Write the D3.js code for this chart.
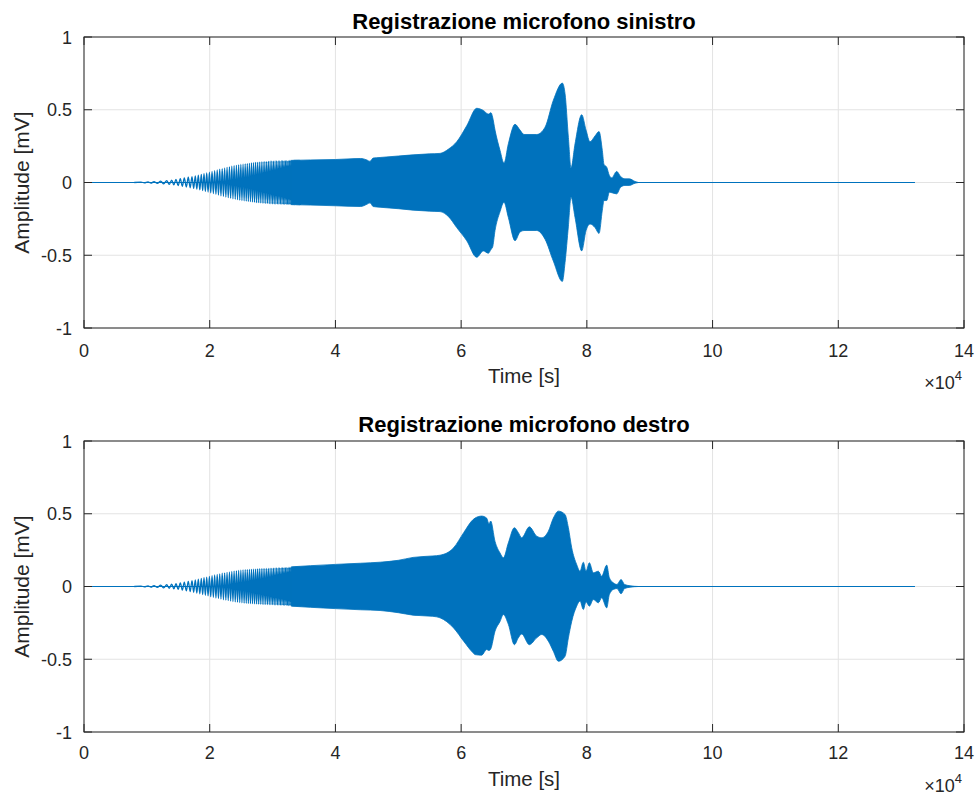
<!DOCTYPE html>
<html>
<head>
<meta charset="utf-8">
<script src="https://cdn.jsdelivr.net/npm/d3@7"></script>
<style>
  body { margin: 0; background: #fff; }
  text { font-family: "Liberation Sans", Arial, Helvetica, sans-serif; }
</style>
</head>
<body>
<svg id="fig" width="978" height="798"></svg>
<script>
// ---- axes ----
const xTicks = [0, 20000, 40000, 60000, 80000, 100000, 120000, 140000];
const yTicks = [-1, -0.5, 0, 0.5, 1];
const panelTitles = ["Registrazione microfono sinistro", "Registrazione microfono destro"];

// last sample of the recording
const recordEnd = 132200;

// start of the sweep (signal leaves the zero line here)
const sweepStart = 8000;

// crest / trough sample positions of the low-frequency part of the sweep
const crestT = [9069, 10182, 11137, 12203, 13158, 13953, 14637, 15321, 15958, 16594,
  17183, 17708, 18185, 18662, 19092, 19522, 19951, 20373, 20786, 21192,
  21590, 21988, 22377, 22759, 23141, 23515, 23881, 24247, 24605, 24955,
  25305, 25647, 25981, 26315, 26641, 26960, 27278, 27588, 27890, 28193,
  28487, 28773, 29060, 29338, 29609, 29879, 30141, 30396, 30651, 30897,
  31136, 31375, 31606, 31828, 32051, 32265, 32472, 32679, 32878, 33077,
  33268, 33459, 33642, 33825, 34000, 34175, 34350];
const troughT = [9626, 10660, 11670, 12680, 13556, 14295, 14979, 15640, 16276, 16889,
  17446, 17947, 18424, 18877, 19307, 19737, 20162, 20580, 20989, 21391,
  21789, 22183, 22568, 22950, 23328, 23698, 24064, 24426, 24780, 25130,
  25476, 25814, 26148, 26478, 26800, 27119, 27433, 27739, 28041, 28340,
  28630, 28916, 29199, 29473, 29744, 30010, 30268, 30523, 30774, 31016,
  31255, 31490, 31717, 31940, 32158, 32368, 32575, 32778, 32977, 33172,
  33363, 33550, 33733, 33912, 34087, 34262, 34437];

// peak amplitude of each sweep cycle [mV]
const cycleAmpL = [0.003, 0.004, 0.006, 0.009, 0.013, 0.017, 0.021, 0.026, 0.031, 0.036,
  0.041, 0.046, 0.051, 0.056, 0.061, 0.066, 0.071, 0.076, 0.081, 0.086,
  0.091, 0.096, 0.100, 0.104, 0.108, 0.112, 0.115, 0.118, 0.121, 0.124,
  0.126, 0.128, 0.130, 0.132, 0.134, 0.136, 0.138, 0.139, 0.140, 0.141,
  0.142, 0.143, 0.144, 0.145, 0.146, 0.147, 0.147, 0.148, 0.148, 0.149,
  0.149, 0.150, 0.150, 0.150, 0.151, 0.151, 0.151, 0.152, 0.152, 0.152,
  0.152, 0.153, 0.153, 0.153, 0.153, 0.154, 0.154];
const cycleAmpR = [0.003, 0.004, 0.006, 0.009, 0.012, 0.016, 0.020, 0.025, 0.030, 0.035,
  0.040, 0.045, 0.050, 0.055, 0.060, 0.065, 0.070, 0.075, 0.079, 0.083,
  0.087, 0.091, 0.094, 0.097, 0.100, 0.103, 0.106, 0.108, 0.110, 0.112,
  0.114, 0.115, 0.116, 0.117, 0.118, 0.119, 0.120, 0.121, 0.122, 0.122,
  0.123, 0.123, 0.124, 0.124, 0.125, 0.125, 0.126, 0.126, 0.127, 0.127,
  0.128, 0.128, 0.129, 0.129, 0.130, 0.130, 0.131, 0.131, 0.132, 0.132,
  0.133, 0.133, 0.134, 0.134, 0.134, 0.135, 0.135];

// envelope of the dense part: sample, upper peak, lower peak (magnitude) [mV]
const envTL = [33000, 36000, 40000, 44000, 45000, 45500, 46000, 47100, 50000, 52350,
  55000, 56640, 58000, 59300, 60890, 62480, 63530, 64330, 64750, 65000,
  65390, 66190, 66820, 67510, 68570, 69370, 70000, 72020, 73350, 74670,
  76100, 76530, 77060, 77480, 78120, 79180, 79870, 80500, 81300, 81940,
  82460, 82730, 83160, 83580, 83950, 84740, 85380, 86070, 86760, 87660, 88200];
const envUpL = [0.152, 0.155, 0.158, 0.165, 0.155, 0.145, 0.168, 0.172, 0.182, 0.190,
  0.197, 0.200, 0.230, 0.280, 0.390, 0.510, 0.495, 0.470, 0.480, 0.450,
  0.360, 0.220, 0.133, 0.266, 0.400, 0.360, 0.330, 0.330, 0.380, 0.565,
  0.683, 0.610, 0.310, 0.100, 0.266, 0.466, 0.360, 0.280, 0.320, 0.350,
  0.220, 0.124, 0.105, 0.048, 0.032, 0.076, 0.041, 0.025, 0.025, 0.007, 0];
const envLoL = [0.152, 0.155, 0.160, 0.165, 0.150, 0.140, 0.165, 0.170, 0.180, 0.190,
  0.197, 0.200, 0.235, 0.310, 0.400, 0.514, 0.470, 0.486, 0.460, 0.445,
  0.330, 0.200, 0.135, 0.240, 0.400, 0.340, 0.330, 0.330, 0.390, 0.540,
  0.680, 0.550, 0.300, 0.100, 0.240, 0.470, 0.330, 0.285, 0.310, 0.350,
  0.190, 0.124, 0.124, 0.067, 0.070, 0.078, 0.032, 0.020, 0.020, 0.005, 0];

const envTR = [33000, 36000, 40000, 44000, 47100, 50000, 52350, 55500, 56640, 58800,
  60400, 61900, 62210, 63270, 64060, 64430, 64700, 65390, 66190, 66720,
  67510, 68470, 69100, 69630, 70850, 72020, 72820, 73880, 74670, 75470,
  76530, 77060, 77590, 78380, 78910, 79440, 79870, 80400, 81030, 81830,
  82360, 83160, 83580, 84220, 84800, 85440, 86000, 86870, 88200];
const envUpR = [0.135, 0.143, 0.152, 0.160, 0.167, 0.180, 0.200, 0.210, 0.215, 0.266,
  0.370, 0.460, 0.470, 0.484, 0.470, 0.430, 0.450, 0.310, 0.230, 0.197,
  0.300, 0.404, 0.370, 0.335, 0.410, 0.346, 0.335, 0.380, 0.470, 0.518,
  0.495, 0.404, 0.266, 0.151, 0.105, 0.167, 0.105, 0.163, 0.094, 0.105,
  0.071, 0.147, 0.060, 0.025, 0.014, 0.048, 0.014, 0.005, 0];
const envLoR = [0.135, 0.143, 0.152, 0.160, 0.165, 0.180, 0.197, 0.205, 0.215, 0.285,
  0.376, 0.456, 0.468, 0.472, 0.433, 0.440, 0.430, 0.307, 0.240, 0.193,
  0.260, 0.400, 0.353, 0.326, 0.400, 0.353, 0.330, 0.376, 0.445, 0.514,
  0.480, 0.353, 0.240, 0.135, 0.100, 0.158, 0.105, 0.135, 0.090, 0.112,
  0.078, 0.147, 0.055, 0.020, 0.014, 0.050, 0.014, 0.005, 0];

// ---- layout ----
const lineColor = "#0072BD";
const axisColor = "#262626";
const gridColor = "#e3e3e3";
const left = 84, right = 964, plotH = 291, tickLen = 8;
const panels = [
  { top: 37, title: panelTitles[0], titleY: 29, tickY: 357, labelY: 383, expY: 389,
    crest: crestT, trough: troughT, amp: cycleAmpL, envT: envTL, envUp: envUpL, envLo: envLoL },
  { top: 441, title: panelTitles[1], titleY: 432, tickY: 759, labelY: 786, expY: 792,
    crest: crestT, trough: troughT, amp: cycleAmpR, envT: envTR, envUp: envUpR, envLo: envLoR }
];

const svg = d3.select("#fig");
const x = d3.scaleLinear().domain([0, 140000]).range([left, right]);

panels.forEach((p, k) => {
  const y = d3.scaleLinear().domain([-1, 1]).range([p.top + plotH, p.top]);
  const g = svg.append("g");

  // grid
  g.selectAll(".gx").data(xTicks).join("line")
    .attr("x1", d => x(d)).attr("x2", d => x(d))
    .attr("y1", p.top).attr("y2", p.top + plotH)
    .attr("stroke", gridColor).attr("stroke-width", 1);
  g.selectAll(".gy").data(yTicks).join("line")
    .attr("x1", left).attr("x2", right)
    .attr("y1", d => y(d)).attr("y2", d => y(d))
    .attr("stroke", gridColor).attr("stroke-width", 1);

  const clipId = "clip" + k;
  svg.append("clipPath").attr("id", clipId).append("rect")
    .attr("x", left).attr("y", p.top).attr("width", right - left).attr("height", plotH);
  const plot = g.append("g").attr("clip-path", `url(#${clipId})`);

  // silent part: the trace sits on zero over the whole record
  plot.append("path")
    .attr("d", d3.line().x(d => x(d[0])).y(d => y(d[1]))([[0, 0], [recordEnd, 0]]))
    .attr("fill", "none").attr("stroke", lineColor).attr("stroke-width", 1);

  // resolved cycles of the sweep
  const pts = [[sweepStart, 0]];
  p.crest.forEach((t, i) => {
    pts.push([t, p.amp[i]]);
    pts.push([p.trough[i], -p.amp[i]]);
  });
  plot.append("path")
    .attr("d", d3.line().x(d => x(d[0])).y(d => y(d[1])).curve(d3.curveMonotoneX)(pts))
    .attr("fill", "none").attr("stroke", lineColor).attr("stroke-width", 1.3);

  // dense part drawn as its envelope
  const env = p.envT.map((t, i) => [t, p.envUp[i], -p.envLo[i]]);
  plot.append("path")
    .attr("d", d3.area().x(d => x(d[0])).y0(d => y(d[2])).y1(d => y(d[1]))
      .curve(d3.curveMonotoneX)(env))
    .attr("fill", lineColor).attr("stroke", lineColor).attr("stroke-width", 0.8);

  // box
  g.append("rect").attr("x", left).attr("y", p.top)
    .attr("width", right - left).attr("height", plotH)
    .attr("fill", "none").attr("stroke", axisColor).attr("stroke-width", 1);

  // inward ticks on all four sides
  xTicks.forEach(t => {
    g.append("line").attr("x1", x(t)).attr("x2", x(t))
      .attr("y1", p.top + plotH).attr("y2", p.top + plotH - tickLen)
      .attr("stroke", axisColor);
    g.append("line").attr("x1", x(t)).attr("x2", x(t))
      .attr("y1", p.top).attr("y2", p.top + tickLen)
      .attr("stroke", axisColor);
  });
  yTicks.forEach(v => {
    g.append("line").attr("x1", left).attr("x2", left + tickLen)
      .attr("y1", y(v)).attr("y2", y(v)).attr("stroke", axisColor);
    g.append("line").attr("x1", right).attr("x2", right - tickLen)
      .attr("y1", y(v)).attr("y2", y(v)).attr("stroke", axisColor);
  });

  // tick labels
  g.selectAll(".xl").data(xTicks).join("text")
    .attr("x", d => x(d)).attr("y", p.tickY)
    .attr("text-anchor", "middle").attr("font-size", 18).attr("fill", axisColor)
    .text(d => d / 10000);
  g.selectAll(".yl").data(yTicks).join("text")
    .attr("x", 72).attr("y", d => y(d) + 6.5)
    .attr("text-anchor", "end").attr("font-size", 18).attr("fill", axisColor)
    .text(d => d);

  // exponent
  const ex = g.append("text").attr("x", right - 2).attr("y", p.expY)
    .attr("text-anchor", "end").attr("font-size", 18).attr("fill", axisColor);
  ex.append("tspan").text("×10");
  ex.append("tspan").attr("font-size", 13).attr("dy", -9).text("4");

  // axis labels
  g.append("text").attr("x", (left + right) / 2).attr("y", p.labelY)
    .attr("text-anchor", "middle").attr("font-size", 20.5).attr("fill", axisColor)
    .text("Time [s]");
  g.append("text")
    .attr("transform", `translate(29,${y(0)}) rotate(-90)`)
    .attr("text-anchor", "middle").attr("font-size", 21).attr("fill", axisColor)
    .text("Amplitude [mV]");

  // title
  g.append("text").attr("x", (left + right) / 2).attr("y", p.titleY)
    .attr("text-anchor", "middle").attr("font-size", 22).attr("font-weight", "bold")
    .attr("fill", "#000").text(p.title);
});
</script>
</body>
</html>
